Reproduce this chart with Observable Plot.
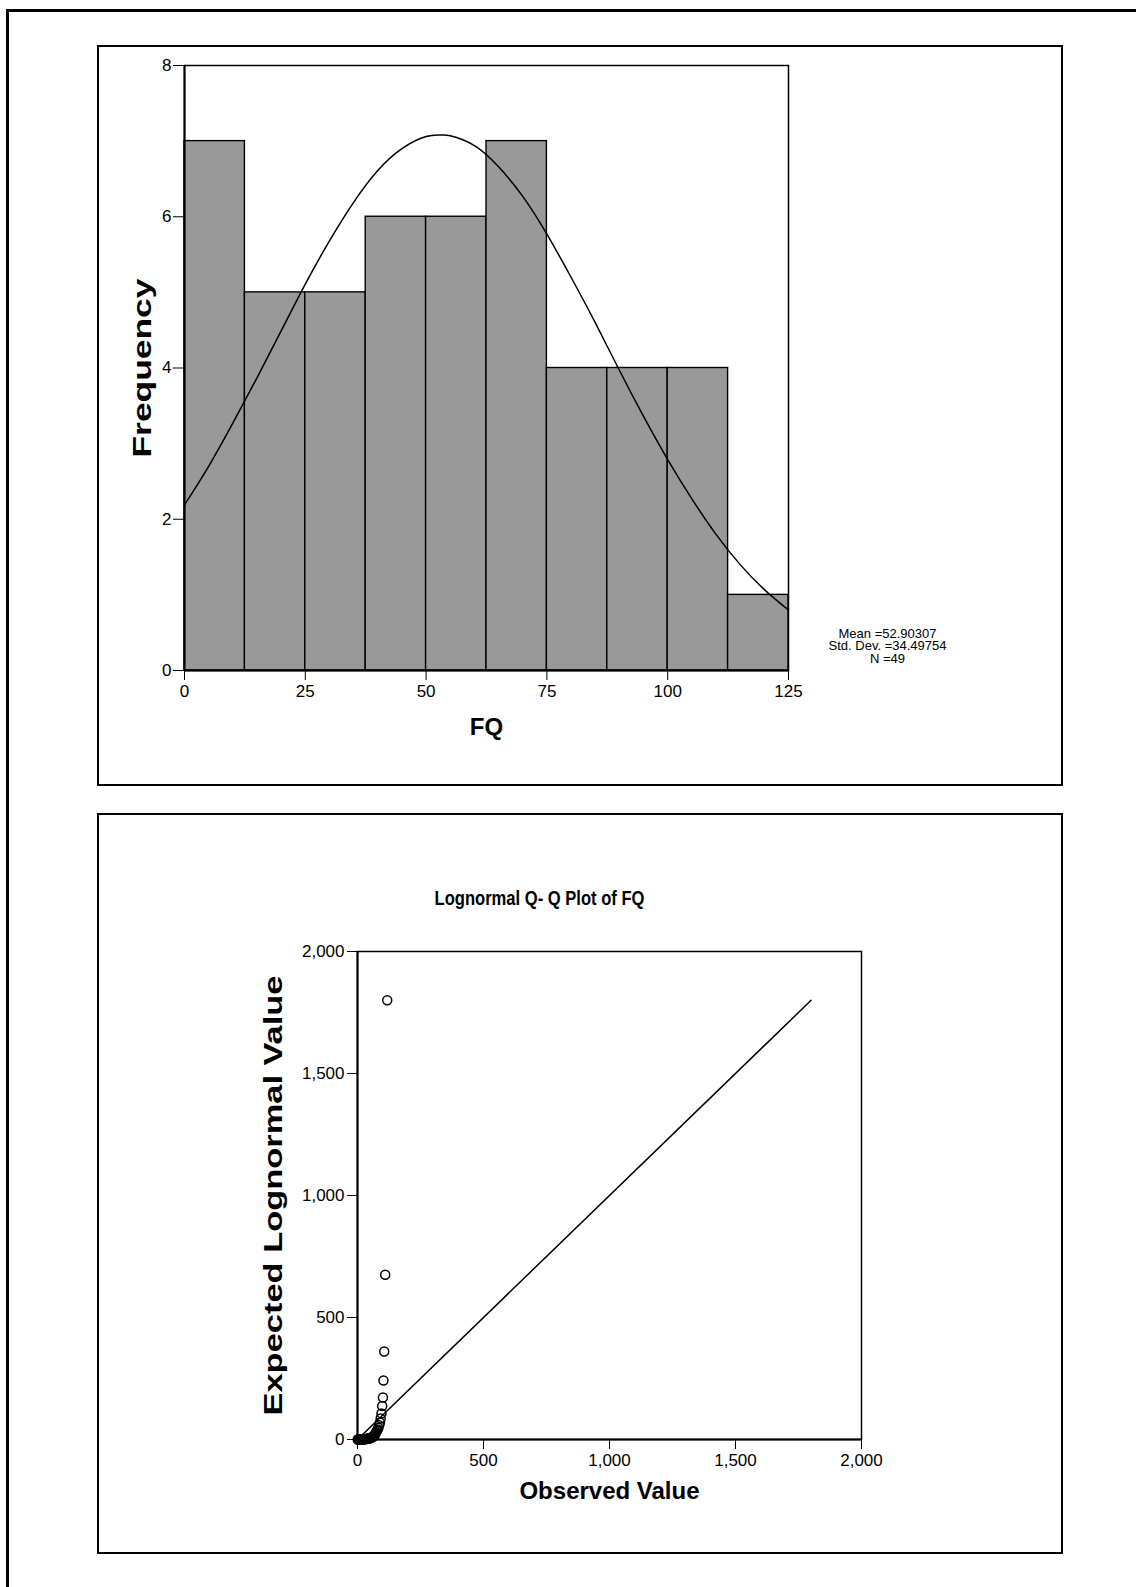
<!DOCTYPE html>
<html>
<head>
<meta charset="utf-8">
<script src="https://cdn.jsdelivr.net/npm/d3@7"></script>
<script src="https://cdn.jsdelivr.net/npm/@observablehq/plot@0.6"></script>
<style>
  html, body { margin: 0; padding: 0; background: #fff; }
  body { width: 1136px; height: 1587px; position: relative; overflow: hidden; font-family: "Liberation Sans", Arial, sans-serif; }
  .abs { position: absolute; }
  .line { position: absolute; background: #000; }
  .panel { position: absolute; border: 2px solid #000; box-sizing: border-box; z-index: 2; pointer-events: none; }
  svg { background: transparent !important; }
</style>
</head>
<body>
<div class="line" style="left:6px; top:9px; width:1130px; height:3px;"></div>
<div class="line" style="left:6px; top:9px; width:3px; height:1578px;"></div>
<div class="panel" style="left:97px; top:45px; width:966px; height:741px;"></div>
<div class="panel" style="left:97px; top:813px; width:966px; height:741px;"></div>
<div id="hist" class="abs" style="left:0; top:0;"></div>
<div id="qq" class="abs" style="left:0; top:800px;"></div>
<script>
// ---- Histogram data ----
const binStarts = [0, 12.5, 25, 37.5, 50, 62.5, 75, 87.5, 100, 112.5];
const binWidth = 12.5;
const binCounts = [7, 5, 5, 6, 6, 7, 4, 4, 4, 1];
const histXTicks = [0, 25, 50, 75, 100, 125];
const histYTicks = [0, 2, 4, 6, 8];
// fitted normal curve
const curveX = [0, 5, 10, 15, 20, 25, 30, 35, 40, 45, 50, 52.9, 55, 60, 65, 70, 75, 80, 85, 90, 95, 100, 105, 110, 115, 120, 125];
const curveY = [2.19, 2.70, 3.27, 3.87, 4.49, 5.11, 5.68, 6.19, 6.61, 6.90, 7.06, 7.08, 7.07, 6.94, 6.66, 6.27, 5.77, 5.20, 4.60, 3.97, 3.36, 2.79, 2.27, 1.80, 1.40, 1.07, 0.80];
const statsLines = ["Mean =52.90307", "Std. Dev. =34.49754", "N =49"];

// ---- Q-Q data ----
const observed = [1, 2, 4, 5, 7, 9, 11, 14, 16, 19, 21, 24, 27, 29, 31, 34, 36, 39, 41, 43, 45, 47, 49, 51, 53, 55, 57, 59, 61, 63, 65, 67, 69, 70, 72, 74, 77, 80, 83, 86, 89, 92, 95, 98, 101, 103, 106, 110, 118];
const expected = [0.03, 0.07, 0.12, 0.18, 0.25, 0.33, 0.43, 0.53, 0.65, 0.79, 0.95, 1.1, 1.3, 1.5, 1.8, 2.1, 2.4, 2.7, 3.1, 3.6, 4.0, 4.6, 5.2, 5.9, 6.8, 7.7, 8.7, 9.9, 11.3, 12.8, 14.6, 16.8, 19.2, 22, 26, 30, 35, 41, 48, 58, 70, 86, 107, 137, 172, 242, 361, 675, 1800];
const refLine = [0, 1800];
const qqTicks = [0, 500, 1000, 1500, 2000];

const FONT = '"Liberation Sans", Arial, sans-serif';

const hist = Plot.plot({
  width: 1136, height: 800,
  marginLeft: 184, marginRight: 348, marginTop: 65, marginBottom: 130,
  style: { fontFamily: FONT, fontSize: "17px", color: "#000", background: "transparent" },
  x: { domain: [0, 125], ticks: histXTicks, tickSize: 10, tickPadding: 4, label: null, tickFormat: d => String(d) },
  y: { domain: [0, 8], ticks: histYTicks, tickSize: 11, tickPadding: 2, label: null, tickFormat: d => String(d) },
  marks: [
    Plot.rect(binStarts.map((s, i) => ({ x1: s, x2: s + binWidth, n: binCounts[i] })), {
      x1: "x1", x2: "x2", y1: 0, y2: "n", fill: "#999999", stroke: "#000", strokeWidth: 1.4
    }),
    Plot.line(curveX.map((x, i) => ({ x, y: curveY[i] })), { x: "x", y: "y", curve: "natural", stroke: "#000", strokeWidth: 1.5 }),
    Plot.frame({ stroke: "#000", strokeWidth: 1.5 }),
    Plot.ruleY([0], { stroke: "#000", strokeWidth: 2 }),
    Plot.ruleX([0], { stroke: "#000", strokeWidth: 2 }),
    Plot.text(["Frequency"], { frameAnchor: "left", dx: -42, rotate: -90, fontWeight: "bold", fontSize: 26, textAnchor: "middle", lineAnchor: "middle" }),
    Plot.text(["FQ"], { frameAnchor: "bottom", dy: 57, fontWeight: "bold", fontSize: 24, textAnchor: "middle", lineAnchor: "middle" }),
    Plot.text([statsLines.join("\n")], { frameAnchor: "bottom-right", dx: 99, dy: -24, fontSize: 13, lineHeight: 0.95, textAnchor: "middle", lineAnchor: "middle" })
  ]
});
document.getElementById("hist").appendChild(hist);

const fmt = d3.format(",");
const qq = Plot.plot({
  width: 1136, height: 787,
  marginLeft: 357, marginRight: 275, marginTop: 151, marginBottom: 148,
  style: { fontFamily: FONT, fontSize: "17px", color: "#000", background: "transparent" },
  x: { domain: [0, 2000], ticks: qqTicks, tickSize: 10, tickPadding: 4, label: null, tickFormat: fmt },
  y: { domain: [0, 2000], ticks: qqTicks, tickSize: 10, tickPadding: 3, label: null, tickFormat: fmt },
  marks: [
    Plot.frame({ stroke: "#000", strokeWidth: 1.5 }),
    Plot.ruleY([0], { stroke: "#000", strokeWidth: 2 }),
    Plot.ruleX([0], { stroke: "#000", strokeWidth: 2 }),
    Plot.line(refLine.map(v => ({ x: v, y: v })), { x: "x", y: "y", stroke: "#000", strokeWidth: 1.5 }),
    Plot.dot(observed.map((o, i) => ({ o, e: expected[i] })), { x: "o", y: "e", r: 4.5, stroke: "#000", strokeWidth: 1.5, fill: "none" }),
    Plot.text(["Lognormal Q- Q Plot of FQ"], { frameAnchor: "top", dx: -70, dy: -53, fontWeight: "bold", fontSize: 20, textAnchor: "middle", lineAnchor: "middle" }),
    Plot.text(["Expected Lognormal Value"], { frameAnchor: "left", dx: -84, rotate: -90, fontWeight: "bold", fontSize: 26, textAnchor: "middle", lineAnchor: "middle" }),
    Plot.text(["Observed Value"], { frameAnchor: "bottom", dy: 52, fontWeight: "bold", fontSize: 24, textAnchor: "middle", lineAnchor: "middle" })
  ]
});
document.getElementById("qq").appendChild(qq);

// condense / stretch titles to the reference's lengths
d3.selectAll("svg text").each(function () {
  const t = this.textContent;
  if (t === "Frequency") { this.setAttribute("textLength", 179); this.setAttribute("lengthAdjust", "spacingAndGlyphs"); }
  if (t === "Expected Lognormal Value") { this.setAttribute("textLength", 440); this.setAttribute("lengthAdjust", "spacingAndGlyphs"); }
  if (t === "Lognormal Q- Q Plot of FQ") { this.setAttribute("textLength", 210); this.setAttribute("lengthAdjust", "spacingAndGlyphs"); }
});
</script>
</body>
</html>
